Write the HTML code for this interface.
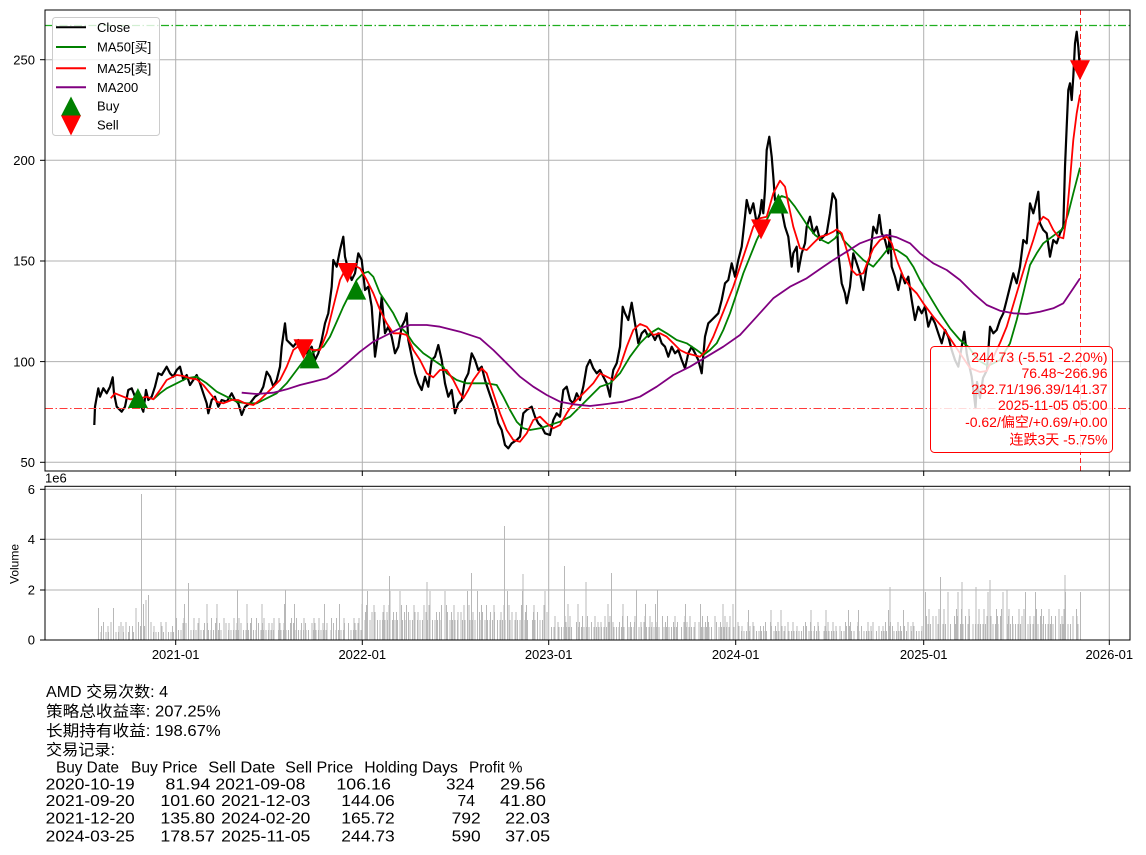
<!DOCTYPE html>
<html><head><meta charset="utf-8">
<style>
html,body{margin:0;padding:0;background:#fff;}
svg{display:block;font-family:"Liberation Sans","Noto Sans CJK SC",sans-serif;}
.g{stroke:#b0b0b0;stroke-width:1;fill:none;}
.tk{stroke:#000;stroke-width:1;}
.a{stroke-dasharray:1 1.5 1 1.5 1 1.5 1 1.5 1 1.5 1 4;}
.b{stroke-dasharray:1 4 1 6.5 1 9 1 4 1 11.5;}
.c{stroke-dasharray:1 14 1 21.5 1 9 1 29;}
.d{stroke-dasharray:1 3 1 5.5 1 2 1 7;}
</style></head>
<body>
<svg width="1146" height="855" viewBox="0 0 1146 855" xmlns="http://www.w3.org/2000/svg">
<rect x="0" y="0" width="1146" height="855" fill="#fff"/>

<!-- MAIN PANEL GRID -->
<g class="g">
<line x1="45" x2="1130" y1="462.3" y2="462.3"/>
<line x1="45" x2="1130" y1="361.6" y2="361.6"/>
<line x1="45" x2="1130" y1="261" y2="261"/>
<line x1="45" x2="1130" y1="160.3" y2="160.3"/>
<line x1="45" x2="1130" y1="59.7" y2="59.7"/>
<line x1="175.7" x2="175.7" y1="10" y2="471"/>
<line x1="362.3" x2="362.3" y1="10" y2="471"/>
<line x1="548.7" x2="548.7" y1="10" y2="471"/>
<line x1="735.7" x2="735.7" y1="10" y2="471"/>
<line x1="923.7" x2="923.7" y1="10" y2="471"/>
<line x1="1109.3" x2="1109.3" y1="10" y2="471"/>
</g>

<!-- CLOSE -->
<path fill="none" stroke="#000" stroke-width="2.2" stroke-linejoin="round" d="M94.3,425 L95,406.7 98.3,388.3 100,396.7 103.3,388.3 106.7,393.3 110,386.7 112.7,377.3 114,393.3 116.7,406.7 121.7,411.7 125,406.7 128.3,390 131.7,388.3 135,396.7 140,403.3 143.3,411.7 146,390 148.3,400 151.7,396.7 155,386.7 158.3,373.3 161.7,375 166.7,366.7 170,373.3 173.3,376.7 176.7,370 180,366.7 183.3,380 186.7,375 190,385 193.3,380 196.7,375 200,383.3 203.3,393.3 206.7,403.3 208.3,413.3 211.7,400 215,396.7 218.3,406.7 221.7,400 226.7,401.7 231.7,393.3 235,400 238.3,403.3 241.7,415 245,406.7 250,403.3 255,396.7 260,393.3 263.3,386.7 266.7,371.7 270,376.7 273.3,386.7 276.7,380 280,366.7 281.7,346.7 285,323.3 286.7,340 290,343.3 293.3,346.7 298.3,340 301.7,348.3 306.7,353.3 311.7,346.7 315,360 318.3,353.3 321.7,340 325,323.3 328.3,313.3 331.7,286.7 333.3,260 336.7,266.7 340,250 343.3,236.7 345,256.7 348.3,270 351.7,280 355,273.3 358.3,253.3 361.7,260 365,290 368.3,286.7 371.7,306.7 375,356.7 378.3,333.3 381.7,296.7 385,333.3 388.3,326.7 391.7,336.7 395,353.3 398.3,346.7 401.7,326.7 405,320 406.7,313.3 408.3,340 411.7,356.7 415,373.3 418.3,383.3 421.7,390 425,376.7 428.3,386.7 431.7,360 435,356.7 438.3,345 441.7,360 445,383.3 448.3,396.7 451.7,390 455,413.3 458.3,403.3 461.7,400 465,380 468.3,373.3 471.7,353.3 475,360 478.3,370 481.7,366.7 485,380 488.3,390 491.7,400 495,410 498.3,423.3 501.7,430 505,445 508.3,448.3 511.7,443.3 516.7,440 520,436.7 523.3,413.3 526.7,410 531.7,406.7 535,416.7 538.3,423.3 541.7,426.7 545,433.3 550,435 553.3,420 556.7,413.3 560,416.7 563.3,390 566.7,386.7 570,400 573.3,403.3 576.7,393.3 580,400 583.3,386.7 586.7,366.7 590,360 593.3,368.3 596.7,373.3 600,370 603.3,376.7 606.7,383.3 610,396.7 611.7,380 613.3,370 616.7,363.3 620,346.7 622.7,306.7 625,313.3 628.3,320 631.7,302.7 635,323.3 638.3,343.3 641.7,333.3 645,330 648.3,336.7 651.7,333.3 655,340 658.3,333.3 661.7,343.3 665,346.7 668.3,356.7 671.7,346.7 675,353.3 678.3,350 681.7,360 685,368.3 688.3,353.3 691.7,346.7 695,353.3 698.3,360 701.7,373.3 705,336.7 708.3,323.3 711.7,320 715,316.7 718.3,313.3 721.7,300 725,283.3 728.3,280 731.7,263.3 735,276.7 738.3,260 741.7,246.7 745,216.7 746.7,200 750,213.3 753.3,203.3 756.7,223.3 760,213.3 761.7,200 763.3,213.3 765,190 766.7,150 769.3,136.7 771.7,156.7 773.3,176.7 775,200 778.3,203.3 781.7,210 785,226.7 788.3,236.7 791.7,266.7 793.3,253.3 796.7,246.7 798.3,271.7 801.7,253.3 805,243.3 806.7,226.7 810,216.7 813.3,233.3 816.7,226.7 820,240 823.3,236.7 826.7,233.3 830,213.3 832.7,193.3 836,200 838.3,253.3 841.7,283.3 845,293.3 846.7,303.3 850,286.7 853.3,253.3 856.7,263.3 860,273.3 863.3,290 866.7,266.7 870,256.7 873.3,226.7 876.7,233.3 879.3,215 881.7,233.3 885,240 888.3,253.3 890,230 891.7,266.7 895,276.7 898.3,290 901.7,273.3 905,283.3 908.3,276.7 911.7,300 915,320 918.3,306.7 921.7,313.3 925,306.7 928.3,326.7 931.7,316.7 935,323.3 938.3,333.3 941.7,343.3 945,330 948.3,336.7 951.7,350 955,360 958.3,366.7 961.7,346.7 964.3,331.7 966.7,353.3 968,360 971.7,376.7 974,395 975.5,408 977,382 980,398 983,378 987,370 990,326.7 993.3,333.3 996.7,330 1000,320 1003.3,313.3 1006.7,300 1010,286.7 1013.3,273.3 1016.7,283.3 1020,266.7 1023.3,240 1026.7,243.3 1030,203.3 1033.3,213.3 1035,206.7 1038.3,191.7 1040,223.3 1043.3,230 1046.7,233.3 1050,256.7 1053.3,240 1056.7,243.3 1060,233.3 1063.3,226.7 1065,166.7 1066.7,126.7 1068.3,90 1070,83.3 1071.7,100 1073.3,76.7 1075,43.3 1076.7,31.7 1078.3,46.7 1080,70.3"/>

<!-- MA50 -->
<path fill="none" stroke="#008000" stroke-width="1.8" stroke-linejoin="round" d="M153.3,399.3 L160,393.3 166.7,388.3 176.7,383.3 186.7,378.3 196.7,376.7 206.7,383.3 216.7,391.7 226.7,396.7 236.7,401.7 246.7,403.3 256.7,403.3 266.7,398.3 276.7,393.3 286.7,383.3 296.7,370 306.7,356.7 316.7,350 323.3,346.7 330,336.7 336.7,321.7 343.3,306.7 350,293.3 356.7,280 363.3,273.3 368.3,271.7 373.3,276.7 380,293.3 386.7,303.3 393.3,313.3 400,326.7 406.7,333.3 413.3,343.3 423.3,353.3 433.3,360 443.3,366.7 446.7,373.3 456.7,380 466.7,383.3 476.7,383.3 486.7,383.3 496.7,385 503.3,396.7 510,410 516.7,421.7 523.3,428.3 530,430 540,428.3 550,425 560,421.7 570,416.7 580,406.7 590,396.7 600,386.7 610,383.3 620,373.3 630,356.7 640,343.3 650,333.3 658.3,328.3 666.7,333.3 676.7,340 686.7,343.3 696.7,350 703.3,355 710,350 716.7,343.3 723.3,330 730,313.3 736.7,293.3 743.3,273.3 750,256.7 756.7,240 763.3,226.7 770,213.3 776.7,200 781.7,196 788.3,198.3 795,206.7 801.7,216.7 808.3,226.7 815,235 821.7,240 828.3,243.3 835,238.3 840,231.7 843.3,240 853.3,250 863.3,260 873.3,266.7 881.7,256.7 888.3,248.3 896.7,250 906.7,256.7 913.3,266.7 920,280 930,296.7 940,313.3 950,328.3 960,340 968.3,346.7 978,360 988,366 1000,360 1010,343.3 1016.7,320 1023.3,293.3 1030,265 1036.7,253.3 1043.3,243.3 1050,238.3 1056.7,233.3 1063.3,228.3 1068.3,213.3 1073.3,193.3 1080,167.6"/>

<!-- MA25 -->
<path fill="none" stroke="#ff0000" stroke-width="1.8" stroke-linejoin="round" d="M110.7,398.3 L115,393.3 123.3,396.7 130,399.3 140,398.3 146.7,396.7 153.3,399.3 160,390 166.7,380 176.7,375 183.3,376 190,378.3 196.7,379.3 203.3,385 210,393.3 216.7,401.7 223.3,403.3 231.7,400 238.3,400 245,403.3 253.3,405 260,400 266.7,393.3 273.3,386.7 280,380 286.7,366.7 293.3,350 300,345 306.7,348.3 313.3,350 320,350 326.7,333.3 333.3,306.7 340,280 346.7,266.7 353.3,265 360,268.3 366.7,280 373.3,293.3 380,310 386.7,323.3 393.3,333.3 400,333.3 406.7,335 413.3,350 420,360 426.7,373.3 433.3,377.3 440,370 446.7,370 453.3,380 460,393.3 463.3,398.3 468.3,390 473.3,380 481.7,368.3 486.7,373.3 493.3,393.3 500,413.3 506.7,430 513.3,440 520,441.7 526.7,433.3 533.3,420 540,416.7 546.7,423.3 553.3,428.3 560,425 566.7,413.3 573.3,403.3 580,396.7 586.7,390 593.3,383.3 600,373.3 606.7,376.7 613.3,380 620,366.7 626.7,346.7 633.3,330 640,324 646.7,326.7 653.3,335 660,333.3 666.7,336.7 673.3,343.3 680,350 686.7,353.3 693.3,355 700,356.7 706.7,350 713.3,336.7 720,320 726.7,303.3 733.3,286.7 740,266.7 746.7,246.7 753.3,226.7 760,218.3 766.7,216.7 773.3,193.3 780,180.7 785,186.7 788.3,203.3 793.3,226.7 800,248.3 806.7,250 813.3,243.3 820,236.7 826.7,235 833.3,231.7 836.7,229.3 841.7,233.3 846.7,250 851.7,270 856.7,275 863.3,273.3 868.3,260 873.3,248.3 880,240 886.7,236.7 891.7,243.3 896.7,260 903.3,276.7 910,286.7 916.7,293.3 923.3,303.3 933.3,316.7 943.3,328.3 953.3,343.3 960,353.3 970,368 980,372 986.7,371 1000,343 1006.7,326.7 1016.7,293.3 1026.7,260 1033.3,240 1038.3,223.3 1043.3,216.7 1048.3,220 1053.3,230 1058.3,236.7 1063.3,238.3 1066.7,216.7 1070,180 1073.3,140 1076.7,113.3 1080,94.5"/>

<!-- MA200 -->
<path fill="none" stroke="#800080" stroke-width="1.8" stroke-linejoin="round" d="M241.7,392.7 L256.7,394 273.3,392.7 286.7,389.3 300,385 313.3,381.7 326.7,378.3 336.7,371.7 346.7,363.3 360,351.7 373.3,341.7 386.7,335 400,328.3 410,325 426.7,325 440,326.7 460,331.7 480,338.3 493.3,350 506.7,363.3 520,376.7 533.3,386.7 546.7,395 560,401.7 573.3,404.3 590,406 606.7,404 623.3,401.7 640,396.7 656.7,386.7 673.3,375 690,366.7 706.7,356.7 723.3,346.7 740,335 756.7,316.7 773.3,298.3 790,286.7 806.7,278.3 823.3,266.7 833.3,260 846.7,251.7 860,243.3 873.3,238.3 886.7,235 896.7,237.3 910,243.3 920,253.3 933.3,263.3 946.7,270 960,280 973.3,293.3 986.7,305 1000,310.7 1013.3,313.3 1026.7,314 1040,311.7 1053.3,308.3 1063.3,303.3 1070,293.3 1080,278.4"/>

<!-- reference lines -->
<line x1="45" x2="1130" y1="25.5" y2="25.5" stroke="#1fae1f" stroke-width="1.2" stroke-dasharray="8 2.5 1.5 2.5"/>
<line x1="45" x2="1130" y1="408.5" y2="408.5" stroke="#ff3a3a" stroke-width="1" stroke-dasharray="8 2.5 1.5 2.5"/>
<line x1="1080.5" x2="1080.5" y1="10" y2="471" stroke="#ff0000" stroke-opacity="0.85" stroke-width="1" stroke-dasharray="5 3"/>

<!-- markers -->
<g fill="#008000">
<polygon points="127.9,408 147.9,408 137.9,388"/>
<polygon points="299.6,368.4 319.6,368.4 309.6,348.4"/>
<polygon points="346.2,299.6 366.2,299.6 356.2,279.6"/>
<polygon points="768.4,213.5 788.4,213.5 778.4,193.5"/>
</g>
<g fill="#ff0000">
<polygon points="293.5,339.3 313.5,339.3 303.5,359.3"/>
<polygon points="337.5,263 357.5,263 347.5,283"/>
<polygon points="751,219.4 771,219.4 761,239.4"/>
<polygon points="1070,60.3 1090,60.3 1080,80.3"/>
</g>

<!-- annotation box -->
<rect x="930.5" y="346.5" width="182" height="106" rx="4" ry="4" fill="#fff" fill-opacity="0.82" stroke="#ff0000" stroke-width="1"/>
<g fill="#ff0000" font-size="14" text-anchor="end">
<text x="1107.5" y="362">244.73 (-5.51 -2.20%)</text>
<text x="1107.5" y="378">76.48~266.96</text>
<text x="1107.5" y="394">232.71/196.39/141.37</text>
<text x="1107.5" y="410">2025-11-05 05:00</text>
<text x="1107.5" y="427">-0.62/偏空/+0.69/+0.00</text>
<text x="1107.5" y="444.5">连跌3天 -5.75%</text>
</g>

<!-- legend -->
<rect x="52.5" y="17.5" width="107" height="118" rx="3" ry="3" fill="#fff" fill-opacity="0.8" stroke="#cccccc" stroke-width="1"/>
<line x1="56" x2="86" y1="27.3" y2="27.3" stroke="#000" stroke-width="2"/>
<line x1="56" x2="86" y1="47" y2="47" stroke="#008000" stroke-width="2"/>
<line x1="56" x2="86" y1="68.3" y2="68.3" stroke="#ff0000" stroke-width="2"/>
<line x1="56" x2="86" y1="87.3" y2="87.3" stroke="#800080" stroke-width="2"/>
<polygon points="61,116 81,116 71,96.5" fill="#008000"/>
<polygon points="61,115.5 81,115.5 71,135.5" fill="#ff0000"/>
<g font-size="13" fill="#000">
<text x="97" y="32">Close</text>
<text x="97" y="51.7">MA50[买]</text>
<text x="97" y="73">MA25[卖]</text>
<text x="97" y="92">MA200</text>
<text x="97" y="110.4">Buy</text>
<text x="97" y="129.7">Sell</text>
</g>

<!-- main spines & ticks -->
<rect x="45" y="10" width="1085" height="461" fill="none" stroke="#000" stroke-width="1"/>
<g class="tk">
<line x1="40" x2="45" y1="462.3" y2="462.3"/>
<line x1="40" x2="45" y1="361.6" y2="361.6"/>
<line x1="40" x2="45" y1="261" y2="261"/>
<line x1="40" x2="45" y1="160.3" y2="160.3"/>
<line x1="40" x2="45" y1="59.7" y2="59.7"/>
<line x1="175.7" x2="175.7" y1="471" y2="476"/>
<line x1="362.3" x2="362.3" y1="471" y2="476"/>
<line x1="548.7" x2="548.7" y1="471" y2="476"/>
<line x1="735.7" x2="735.7" y1="471" y2="476"/>
<line x1="923.7" x2="923.7" y1="471" y2="476"/>
<line x1="1109.3" x2="1109.3" y1="471" y2="476"/>
</g>
<g font-size="13" fill="#000" text-anchor="end">
<text x="35" y="467">50</text>
<text x="35" y="366.3">100</text>
<text x="35" y="265.7">150</text>
<text x="35" y="165">200</text>
<text x="35" y="64.4">250</text>
</g>

<!-- VOLUME PANEL -->
<g class="g">
<line x1="45" x2="1130" y1="489.3" y2="489.3"/>
<line x1="45" x2="1130" y1="539.3" y2="539.3"/>
<line x1="45" x2="1130" y1="590" y2="590"/>
<line x1="175.7" x2="175.7" y1="486.3" y2="640"/>
<line x1="362.3" x2="362.3" y1="486.3" y2="640"/>
<line x1="548.7" x2="548.7" y1="486.3" y2="640"/>
<line x1="735.7" x2="735.7" y1="486.3" y2="640"/>
<line x1="923.7" x2="923.7" y1="486.3" y2="640"/>
<line x1="1109.3" x2="1109.3" y1="486.3" y2="640"/>
</g>
<g stroke="#b8b8b8" fill="none" shape-rendering="crispEdges">
<line class="a" x1="98" x2="175" y1="636" y2="636" stroke-width="8"/>
<line class="d" x1="98" x2="175" y1="633" y2="633" stroke-width="14" stroke-dashoffset="1"/>
<line class="b" x1="98" x2="175" y1="631" y2="631" stroke-width="18"/>
<line class="c" x1="98" x2="175" y1="624" y2="624" stroke-width="32"/>

<line class="a" x1="176" x2="362" y1="635" y2="635" stroke-width="10" stroke-dashoffset="3"/>
<line class="d" x1="176" x2="362" y1="631.5" y2="631.5" stroke-width="17" stroke-dashoffset="4"/>
<line class="b" x1="176" x2="362" y1="629" y2="629" stroke-width="22" stroke-dashoffset="5"/>
<line class="c" x1="176" x2="362" y1="622" y2="622" stroke-width="36" stroke-dashoffset="7"/>

<line class="a" x1="363" x2="549" y1="630" y2="630" stroke-width="20" stroke-dashoffset="6"/>
<line class="d" x1="363" x2="549" y1="626" y2="626" stroke-width="28" stroke-dashoffset="2"/>
<line class="b" x1="363" x2="549" y1="622.5" y2="622.5" stroke-width="35" stroke-dashoffset="2"/>
<line class="c" x1="363" x2="549" y1="615.5" y2="615.5" stroke-width="49" stroke-dashoffset="11"/>

<line class="a" x1="550" x2="735" y1="633.5" y2="633.5" stroke-width="13" stroke-dashoffset="9"/>
<line class="d" x1="550" x2="735" y1="631" y2="631" stroke-width="18" stroke-dashoffset="6"/>
<line class="b" x1="550" x2="735" y1="628" y2="628" stroke-width="24" stroke-dashoffset="8"/>
<line class="c" x1="550" x2="735" y1="622" y2="622" stroke-width="36" stroke-dashoffset="20"/>

<line class="a" x1="737" x2="923" y1="635.5" y2="635.5" stroke-width="9" stroke-dashoffset="1"/>
<line class="d" x1="737" x2="923" y1="633" y2="633" stroke-width="14" stroke-dashoffset="9"/>
<line class="b" x1="737" x2="923" y1="631" y2="631" stroke-width="18" stroke-dashoffset="12"/>
<line class="c" x1="737" x2="923" y1="625" y2="625" stroke-width="30" stroke-dashoffset="4"/>

<line class="a" x1="925" x2="1081" y1="632" y2="632" stroke-width="16" stroke-dashoffset="5"/>
<line class="d" x1="925" x2="1081" y1="628" y2="628" stroke-width="24" stroke-dashoffset="3"/>
<line class="b" x1="925" x2="1081" y1="624.5" y2="624.5" stroke-width="31" stroke-dashoffset="9"/>
<line class="c" x1="925" x2="1081" y1="616" y2="616" stroke-width="48" stroke-dashoffset="15"/>
<path stroke-width="1" d="M141.3,640V494 M143.3,640V604 M146,640V600 M148.3,640V595 M188.3,640V583 M237.7,640V590 M285.3,640V590 M389.7,640V576 M427,640V582 M471.3,640V573 M504.3,640V526 M523,640V574 M564.7,640V566 M586,640V582 M611.7,640V573 M636.3,640V590 M657.7,640V590 M890,640V587 M940.3,640V577 M962,640V582 M976,640V587 M990,640V580 M1007,640V590 M1065,640V575"/>
</g>
<rect x="45" y="486.3" width="1085" height="153.7" fill="none" stroke="#000" stroke-width="1"/>
<g class="tk">
<line x1="40" x2="45" y1="640" y2="640"/>
<line x1="40" x2="45" y1="590" y2="590"/>
<line x1="40" x2="45" y1="539.3" y2="539.3"/>
<line x1="40" x2="45" y1="489.3" y2="489.3"/>
<line x1="175.7" x2="175.7" y1="640" y2="645"/>
<line x1="362.3" x2="362.3" y1="640" y2="645"/>
<line x1="548.7" x2="548.7" y1="640" y2="645"/>
<line x1="735.7" x2="735.7" y1="640" y2="645"/>
<line x1="923.7" x2="923.7" y1="640" y2="645"/>
<line x1="1109.3" x2="1109.3" y1="640" y2="645"/>
</g>
<g font-size="13" fill="#000" text-anchor="end">
<text x="35" y="644.7">0</text>
<text x="35" y="594.7">2</text>
<text x="35" y="544">4</text>
<text x="35" y="494">6</text>
</g>
<text x="45" y="482.5" font-size="13" fill="#000">1e6</text>
<text transform="translate(18.5,564) rotate(-90)" font-size="12" text-anchor="middle" fill="#000">Volume</text>
<g font-size="13" fill="#000" text-anchor="middle">
<text x="175.7" y="659">2021-01</text>
<text x="362.3" y="659">2022-01</text>
<text x="548.7" y="659">2023-01</text>
<text x="735.7" y="659">2024-01</text>
<text x="923.7" y="659">2025-01</text>
<text x="1109.3" y="659">2026-01</text>
</g>

<!-- BOTTOM TEXT -->
<g font-size="15.5" fill="#000">
<text x="46" y="697" textLength="122" lengthAdjust="spacingAndGlyphs">AMD 交易次数: 4</text>
<text x="46" y="716.7" textLength="174.7" lengthAdjust="spacingAndGlyphs">策略总收益率: 207.25%</text>
<text x="46" y="736" textLength="174.7" lengthAdjust="spacingAndGlyphs">长期持有收益: 198.67%</text>
<text x="46" y="755" textLength="69" lengthAdjust="spacingAndGlyphs">交易记录:</text>
</g>
<g font-size="15.5" fill="#000">
<text x="56" y="772.7" textLength="63" lengthAdjust="spacingAndGlyphs">Buy Date</text>
<text x="131" y="772.7" textLength="66.5" lengthAdjust="spacingAndGlyphs">Buy Price</text>
<text x="208.3" y="772.7" textLength="66.9" lengthAdjust="spacingAndGlyphs">Sell Date</text>
<text x="285.2" y="772.7" textLength="68" lengthAdjust="spacingAndGlyphs">Sell Price</text>
<text x="364.3" y="772.7" textLength="93.6" lengthAdjust="spacingAndGlyphs">Holding Days</text>
<text x="469" y="772.7" textLength="53.5" lengthAdjust="spacingAndGlyphs">Profit %</text>

<text x="45.7" y="789.3" textLength="89" lengthAdjust="spacingAndGlyphs">2020-10-19</text>
<text x="165.4" y="789.3" textLength="45" lengthAdjust="spacingAndGlyphs">81.94</text>
<text x="215.4" y="789.3" textLength="90" lengthAdjust="spacingAndGlyphs">2021-09-08</text>
<text x="336.4" y="789.3" textLength="54.5" lengthAdjust="spacingAndGlyphs">106.16</text>
<text x="446" y="789.3" textLength="28.6" lengthAdjust="spacingAndGlyphs">324</text>
<text x="500" y="789.3" textLength="45.5" lengthAdjust="spacingAndGlyphs">29.56</text>

<text x="45.7" y="806" textLength="89" lengthAdjust="spacingAndGlyphs">2021-09-20</text>
<text x="160.4" y="806" textLength="54.5" lengthAdjust="spacingAndGlyphs">101.60</text>
<text x="221.2" y="806" textLength="89.2" lengthAdjust="spacingAndGlyphs">2021-12-03</text>
<text x="341.3" y="806" textLength="53.5" lengthAdjust="spacingAndGlyphs">144.06</text>
<text x="457.5" y="806" textLength="17.5" lengthAdjust="spacingAndGlyphs">74</text>
<text x="500" y="806" textLength="46" lengthAdjust="spacingAndGlyphs">41.80</text>

<text x="45.7" y="823.7" textLength="89" lengthAdjust="spacingAndGlyphs">2021-12-20</text>
<text x="160.4" y="823.7" textLength="54.5" lengthAdjust="spacingAndGlyphs">135.80</text>
<text x="221.2" y="823.7" textLength="89.2" lengthAdjust="spacingAndGlyphs">2024-02-20</text>
<text x="341.3" y="823.7" textLength="53.5" lengthAdjust="spacingAndGlyphs">165.72</text>
<text x="451.7" y="823.7" textLength="29" lengthAdjust="spacingAndGlyphs">792</text>
<text x="505.2" y="823.7" textLength="45" lengthAdjust="spacingAndGlyphs">22.03</text>

<text x="45.7" y="841.3" textLength="89" lengthAdjust="spacingAndGlyphs">2024-03-25</text>
<text x="160.4" y="841.3" textLength="54.5" lengthAdjust="spacingAndGlyphs">178.57</text>
<text x="221.2" y="841.3" textLength="89.2" lengthAdjust="spacingAndGlyphs">2025-11-05</text>
<text x="341.3" y="841.3" textLength="53.5" lengthAdjust="spacingAndGlyphs">244.73</text>
<text x="451.7" y="841.3" textLength="29" lengthAdjust="spacingAndGlyphs">590</text>
<text x="505.2" y="841.3" textLength="45" lengthAdjust="spacingAndGlyphs">37.05</text>
</g>
</svg>
</body></html>
